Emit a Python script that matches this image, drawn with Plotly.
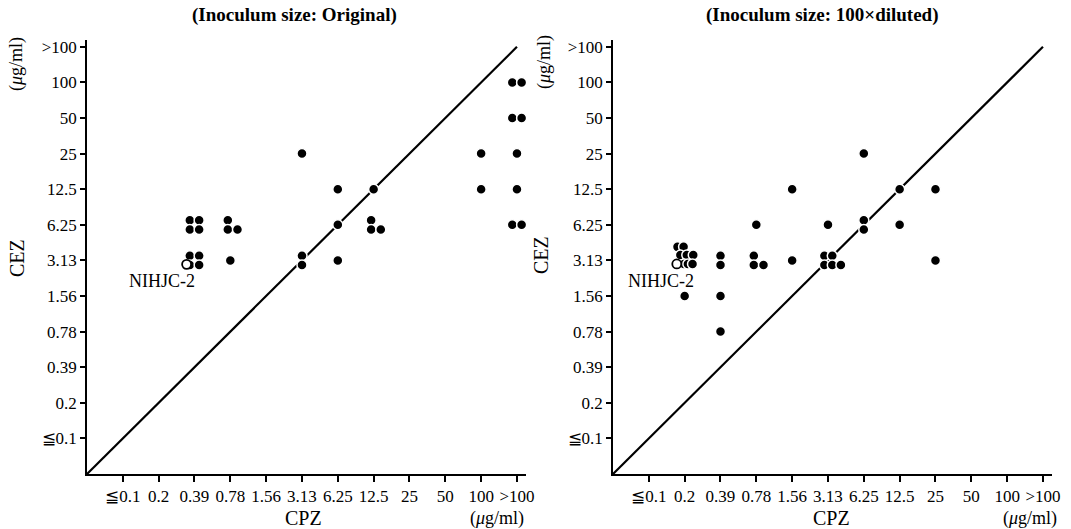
import plotly.graph_objects as go

# ---- data ----
levels = ["≦0.1", "0.2", "0.39", "0.78", "1.56", "3.13", "6.25", "12.5", "25", "50", "100", ">100"]
x_ticktext = ["≦0.1", "0.2", "0.39", "0.78", "1.56", "3.13", "6.25", "12.5", "25", "50", "100", ">100"]
y_ticktext = ["≦0.1", "0.2", "0.39", "0.78", "1.56", "3.13", "6.25", "12.5", "25", "50", "100", ">100"]

# Original inoculum: (CPZ MIC, CEZ MIC, number of strains, arrangement)
orig_cpz = ["0.39", "0.39", "0.78", "0.78", "3.13", "3.13", "6.25", "6.25", "6.25", "12.5", "12.5",
            "100", "100", ">100", ">100", ">100", ">100", ">100"]
orig_cez = ["6.25", "3.13", "6.25", "3.13", "25", "3.13", "12.5", "6.25", "3.13", "12.5", "6.25",
            "25", "12.5", "100", "50", "25", "12.5", "6.25"]
orig_n = [4, 4, 3, 1, 1, 2, 1, 1, 1, 1, 3, 1, 1, 2, 2, 1, 1, 2]
orig_arr = ["", "", "", "", "", "v", "", "", "", "", "", "", "", "h", "h", "", "", "h"]
orig_ref = ("0.39", "3.13")  # NIHJC-2

# 100x diluted inoculum
dil_cpz = ["0.2", "0.2", "0.39", "0.39", "0.39", "0.78", "0.78", "1.56", "1.56", "3.13", "3.13",
           "6.25", "6.25", "12.5", "12.5", "25", "25"]
dil_cez = ["3.13", "1.56", "3.13", "1.56", "0.78", "6.25", "3.13", "12.5", "3.13", "6.25", "3.13",
           "25", "6.25", "12.5", "6.25", "12.5", "3.13"]
dil_n = [8, 1, 2, 1, 1, 1, 3, 1, 1, 1, 5, 1, 2, 1, 1, 1, 1]
dil_arr = ["", "", "v", "", "", "", "", "", "", "", "", "", "v", "", "", "", ""]
dil_ref = ("0.2", "3.13")  # NIHJC-2

# ---- arrangement of coincident points (small offsets in axis units) ----
d = 0.13
patterns = {
    1: [(0, 0)],
    "2h": [(-d, 0), (d, 0)],
    "2v": [(0, d), (0, -d)],
    3: [(-0.07, d), (-0.07, -d), (0.2, -d)],
    4: [(-d, d), (d, d), (-d, -d), (d, -d)],
    5: [(-0.1, d), (0.12, d), (-0.1, -d), (0.12, -d), (0.36, -d)],
    8: [(-0.2, 0.38), (-0.03, 0.38), (-0.12, 0.15), (0.06, 0.15), (0.24, 0.15),
        (-0.02, -0.1), (0.09, -0.1), (0.22, -0.1)],
}


def pos(label):
    return levels.index(label) + 1


def expand(cpz, cez, n, arr):
    xs, ys = [], []
    for c, e, k, a in zip(cpz, cez, n, arr):
        key = f"{k}{a}" if k == 2 else k
        for dx, dy in patterns[key]:
            xs.append(pos(c) + dx)
            ys.append(pos(e) + dy)
    return xs, ys


fig = go.Figure()
font_family = "Liberation Serif, Times New Roman, serif"

panels = [
    (orig_cpz, orig_cez, orig_n, orig_arr, orig_ref, (-0.22, -0.11), "x", "y"),
    (dil_cpz, dil_cez, dil_n, dil_arr, dil_ref, (-0.22, -0.1), "x2", "y2"),
]

for cpz, cez, n, arr, ref, roff, xa, ya in panels:
    # line of identity
    fig.add_trace(go.Scatter(x=[0, 12], y=[0, 12], mode="lines",
                             line=dict(color="black", width=2.2),
                             xaxis=xa, yaxis=ya, showlegend=False, hoverinfo="skip"))
    xs, ys = expand(cpz, cez, n, arr)
    fig.add_trace(go.Scatter(x=xs, y=ys, mode="markers", cliponaxis=False,
                             marker=dict(size=10, color="black", line=dict(color="white", width=1.5)),
                             xaxis=xa, yaxis=ya, showlegend=False))
    fig.add_trace(go.Scatter(x=[pos(ref[0]) + roff[0]], y=[pos(ref[1]) + roff[1]], mode="markers",
                             cliponaxis=False,
                             marker=dict(size=9, color="white", line=dict(color="black", width=1.8)),
                             xaxis=xa, yaxis=ya, showlegend=False))

W, H = 1071, 529
UX = 35.83          # pixels per category step (horizontal)
XMAX = 12.25

axis_common = dict(showgrid=False, zeroline=False, showline=True, linecolor="black", linewidth=1.5,
                   ticks="outside", tickcolor="black", tickwidth=1.5, automargin=False,
                   tickfont=dict(family=font_family, size=17, color="black"))

ydom = [1 - 474 / H, 1 - (474 - 12.2 * 35.6) / H]

fig.update_layout(
    width=W, height=H, autosize=False,
    margin=dict(l=0, r=0, t=0, b=0, pad=0),
    paper_bgcolor="white", plot_bgcolor="white",
    xaxis=dict(domain=[87 / W, (87 + XMAX * UX) / W], range=[0, XMAX], tickvals=list(range(1, 13)),
               ticktext=x_ticktext, ticklen=6, anchor="y", **axis_common),
    yaxis=dict(domain=ydom, range=[0, 12.2], tickvals=list(range(1, 13)),
               ticktext=y_ticktext, ticklen=5, anchor="x", **axis_common),
    xaxis2=dict(domain=[613 / W, (613 + XMAX * UX) / W], range=[0, XMAX], tickvals=list(range(1, 13)),
                ticktext=x_ticktext, ticklen=6, anchor="y2", **axis_common),
    yaxis2=dict(domain=ydom, range=[0, 12.2], tickvals=list(range(1, 13)),
                ticktext=y_ticktext, ticklen=5, anchor="x2", **axis_common),
)


def ann(text, px, py, size=17, bold=False, angle=0, xanchor="center"):
    fig.add_annotation(text=f"<b>{text}</b>" if bold else text,
                       x=px / W, y=1 - py / H, xref="paper", yref="paper",
                       xanchor=xanchor, yanchor="middle", showarrow=False, textangle=angle,
                       font=dict(family=font_family, size=size, color="black"))


ann("(Inoculum size: Original)", 294, 15, size=19, bold=True)
ann("(Inoculum size: 100×diluted)", 822, 15, size=19, bold=True)
ann("CPZ", 303, 518, size=20)
ann("CPZ", 831, 518, size=20)
ann("(<i>μ</i>g/ml)", 497, 518, size=18)
ann("(<i>μ</i>g/ml)", 1030, 518, size=18)
ann("CEZ", 17, 258, size=20, angle=-90)
ann("CEZ", 541, 255, size=20, angle=-90)
ann("(<i>μ</i>g/ml)", 16, 64, size=18, angle=-90)
ann("(<i>μ</i>g/ml)", 544, 62, size=18, angle=-90)
ann("NIHJC-2", 162, 281, size=18)
ann("NIHJC-2", 661, 281, size=18)

fig.write_html("out.html", config={"displayModeBar": False},
               post_script="document.body.style.margin='0';document.body.style.padding='0';"
                           "document.documentElement.style.overflow='hidden';")
